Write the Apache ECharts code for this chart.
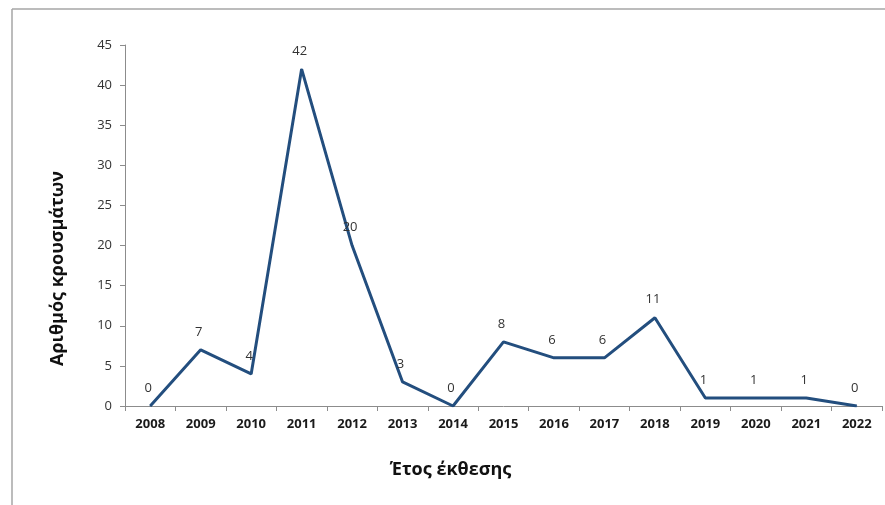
<!DOCTYPE html>
<html>
<head>
<meta charset="utf-8">
<script src="https://cdn.jsdelivr.net/npm/echarts@6/dist/echarts.min.js"></script>
<style>
  html, body { margin: 0; padding: 0; background: #ffffff; }
  #chart { width: 885px; height: 505px; }
</style>
</head>
<body>
<div id="chart"></div>
<script>
// Reported cases per year of exposure
const years = ['2008', '2009', '2010', '2011', '2012', '2013', '2014', '2015',
               '2016', '2017', '2018', '2019', '2020', '2021', '2022'];
const cases = [0, 7, 4, 42, 20, 3, 0, 8, 6, 6, 11, 1, 1, 1, 0];
const yTicks = { min: 0, max: 45, interval: 5 };

const FONT = '"Open Sans", "Noto Sans", sans-serif';
const AXIS_GRAY = '#8c8c8c';

const chart = echarts.init(document.getElementById('chart'));

chart.setOption({
  backgroundColor: '#ffffff',
  animation: false,
  textStyle: { fontFamily: FONT },
  grid: { left: 125, right: 3, top: 45, bottom: 99, containLabel: false },
  graphic: [
    // outer frame (top and left edges)
    { type: 'line', shape: { x1: 12, y1: 9, x2: 885, y2: 9 },
      style: { stroke: '#a6a6a6', lineWidth: 1.5 } },
    { type: 'line', shape: { x1: 12, y1: 9, x2: 12, y2: 505 },
      style: { stroke: '#a6a6a6', lineWidth: 1.5 } }
  ],
  xAxis: {
    type: 'category',
    data: years,
    boundaryGap: true,
    name: 'Έτος έκθεσης',
    nameLocation: 'middle',
    nameGap: 55,
    nameTextStyle: {
      fontFamily: FONT, fontSize: 18, fontWeight: 'bold', color: '#111111',
      padding: [0, 106, 0, 0]
    },
    axisLine: { lineStyle: { color: AXIS_GRAY, width: 1 } },
    axisTick: { show: true, alignWithLabel: false, length: 5, lineStyle: { color: AXIS_GRAY } },
    axisLabel: { fontFamily: FONT, fontSize: 13, fontWeight: 'bold', color: '#1a1a1a', margin: 12 },
    splitLine: { show: false }
  },
  yAxis: {
    type: 'value',
    min: yTicks.min,
    max: yTicks.max,
    interval: yTicks.interval,
    name: 'Αριθμός κρουσμάτων',
    nameLocation: 'middle',
    nameGap: 58,
    nameRotate: 90,
    nameTextStyle: {
      fontFamily: FONT, fontSize: 18, fontWeight: 'bold', color: '#111111',
      padding: [0, 86, 0, 0]
    },
    axisLine: { show: true, lineStyle: { color: AXIS_GRAY, width: 1 } },
    axisTick: { show: true, length: 5, lineStyle: { color: AXIS_GRAY } },
    axisLabel: { fontFamily: FONT, fontSize: 13, color: '#333333', margin: 13 },
    splitLine: { show: false }
  },
  series: [{
    type: 'line',
    data: cases,
    symbol: 'circle',
    symbolSize: 1,
    showSymbol: true,
    itemStyle: { color: '#234e7e' },
    lineStyle: { color: '#234e7e', width: 3 },
    label: {
      show: true,
      position: 'top',
      distance: 11,
      offset: [-2, 0],
      fontFamily: FONT,
      fontSize: 13,
      color: '#333333'
    }
  }]
});
</script>
</body>
</html>
